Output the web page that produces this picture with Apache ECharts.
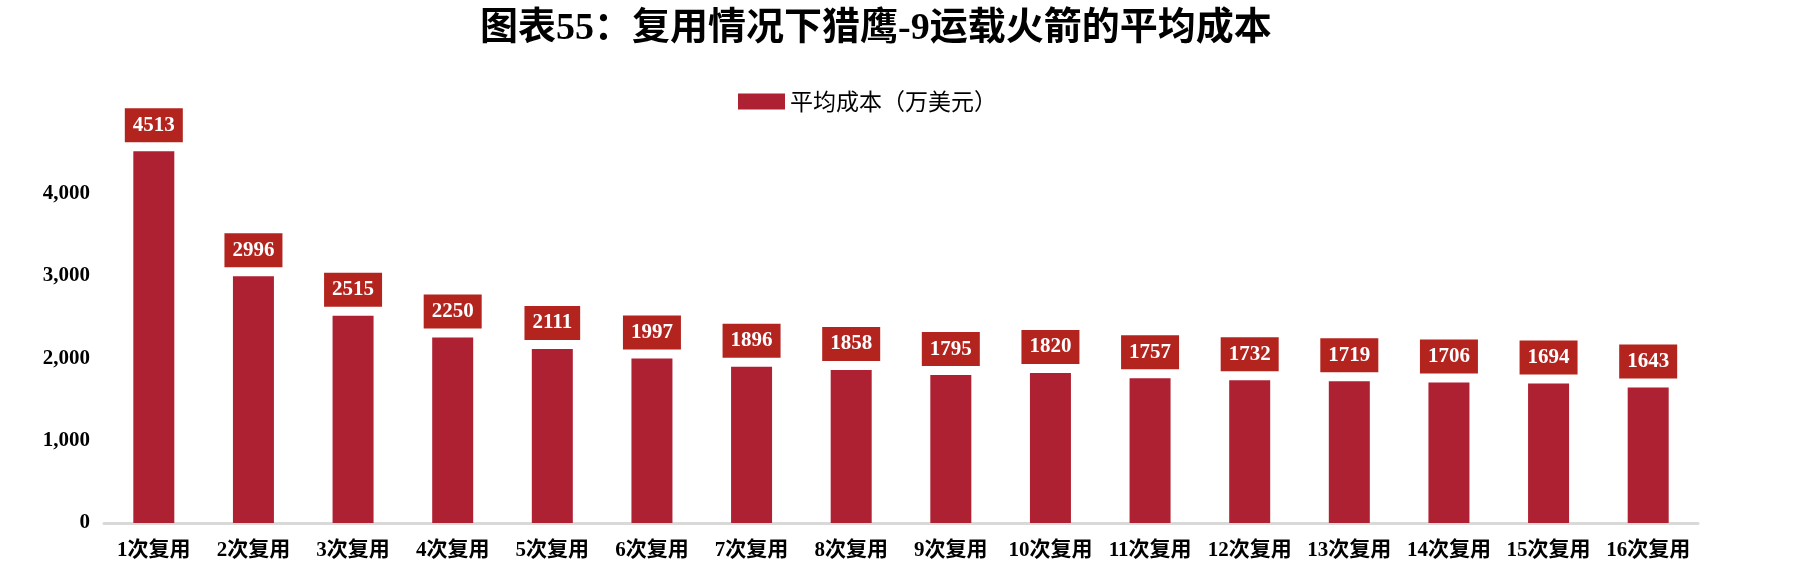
<!DOCTYPE html>
<html lang="zh-CN">
<head>
    <meta charset="UTF-8">
    <title>复用情况下猎鹰-9运载火箭的平均成本</title>
    <script src="https://cdn.jsdelivr.net/npm/echarts@6/dist/echarts.min.js"></script>
    <style>
        body{
            margin: 0;
            background: #fff;
        }
        #chart{
            width: 1800px;
            height: 585px;
        }
    </style>
</head>
<body>
<div id="chart"></div>
<script>
    var categories = ['1次复用','2次复用','3次复用','4次复用','5次复用','6次复用','7次复用','8次复用',
        '9次复用','10次复用','11次复用','12次复用','13次复用','14次复用','15次复用','16次复用'];
    var avgCost = [4513, 2996, 2515, 2250, 2111, 1997, 1896, 1858, 1795, 1820, 1757, 1732, 1719, 1706, 1694, 1643];
    var seriesName = '平均成本（万美元）';
    var titleText = '图表55：复用情况下猎鹰-9运载火箭的平均成本';

    var fontMix = '"Liberation Serif", "Noto Sans CJK SC", serif';

    // 千分位
    function thousands(v) {
        return String(v).replace(/\B(?=(\d{3})+(?!\d))/g, ',');
    }

    var myChart = echarts.init(document.getElementById('chart'));
    myChart.setOption({
        animation: false,
        title: {
            text: titleText,
            left: 475,
            top: 5,
            textStyle: {
                fontSize: 38,
                fontWeight: 'bold',
                color: '#000',
                fontFamily: fontMix
            }
        },
        legend: {
            data: [seriesName],
            top: 85,
            left: 733,
            icon: 'rect',
            itemWidth: 47,
            itemHeight: 16,
            itemGap: 10,
            textStyle: {
                fontSize: 23,
                color: '#000',
                fontFamily: '"Noto Sans CJK SC", serif'
            }
        },
        grid: {
            left: 104,
            right: 102,
            top: 111,
            bottom: 62
        },
        xAxis: {
            type: 'category',
            data: categories,
            axisLine: {lineStyle: {color: '#d9d9d9', width: 3}},
            axisTick: {show: false},
            axisLabel: {
                interval: 0,
                margin: 17,
                fontSize: 21,
                fontWeight: 'bold',
                color: '#000',
                fontFamily: fontMix
            }
        },
        yAxis: {
            type: 'value',
            min: 0,
            max: 5000,
            interval: 1000,
            splitLine: {show: false},
            axisLine: {show: false},
            axisTick: {show: false},
            axisLabel: {
                showMaxLabel: false,
                margin: 14,
                align: 'right',
                fontSize: 21,
                fontWeight: 'bold',
                color: '#000',
                fontFamily: fontMix,
                formatter: thousands
            }
        },
        series: [{
            name: seriesName,
            type: 'bar',
            data: avgCost,
            barWidth: 41,
            itemStyle: {color: '#ae2133'},
            label: {
                show: true,
                position: 'top',
                distance: 9,
                backgroundColor: '#b3241f',
                padding: [7, 8],
                lineHeight: 20,
                color: '#fff',
                fontSize: 21,
                fontWeight: 'bold',
                fontFamily: fontMix
            }
        }]
    });
</script>
</body>
</html>
